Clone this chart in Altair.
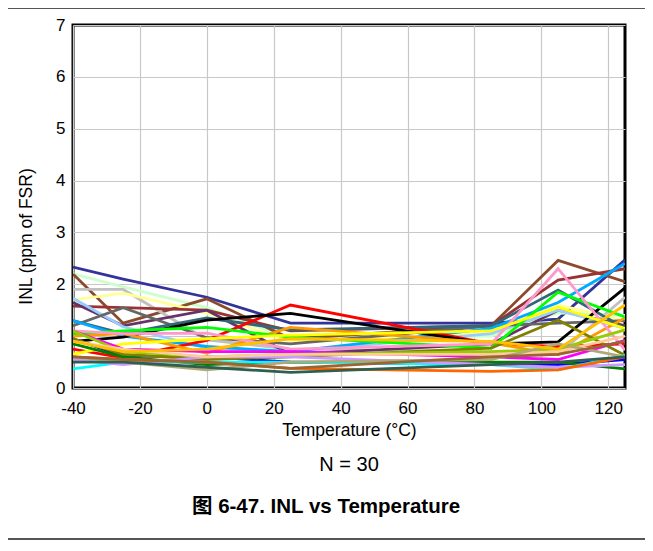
import altair as alt
import pandas as pd

temps = [-40, -25, 0, 25, 85, 105, 125]

# 30 units, INL (ppm of FSR) at each temperature
s01 = [2.33, 2.10, 1.75, 1.25, 1.25, 1.33, 2.47]   # navy
s02 = [2.20, 1.95, 1.55, 0.95, 1.00, 1.45, 1.40]   # light green
s03 = [2.20, 1.25, 1.72, 0.95, 1.20, 2.46, 2.05]   # brown
s04 = [1.90, 1.90, 0.93, 0.75, 0.70, 0.65, 1.75]   # silver
s05 = [1.70, 1.83, 1.45, 0.90, 1.05, 1.60, 1.30]   # light yellow
s06 = [1.58, 1.55, 1.50, 1.10, 1.20, 2.08, 2.30]   # maroon
s07 = [1.65, 1.20, 1.50, 0.65, 0.85, 1.50, 1.20]   # purple
s08 = [1.73, 1.18, 0.77, 0.70, 1.05, 1.50, 1.15]   # light blue
s09 = [1.20, 1.55, 0.97, 0.85, 1.20, 1.25, 1.30]   # dark gray
s10 = [1.30, 1.05, 1.35, 1.12, 1.20, 1.89, 1.15]   # dark teal
s11 = [1.30, 1.00, 0.80, 0.70, 1.15, 1.65, 2.40]   # sky blue
s12 = [0.75, 0.58, 0.92, 1.60, 0.85, 0.80, 0.85]   # red
s13 = [0.90, 0.98, 1.31, 1.44, 0.85, 0.89, 1.93]   # black
s14 = [1.00, 1.05, 0.67, 1.17, 0.87, 0.64, 1.35]   # orange
s15 = [1.05, 1.10, 1.17, 0.98, 0.77, 1.85, 1.37]   # green
s16 = [1.10, 1.05, 1.06, 0.75, 0.85, 2.30, 0.73]   # pink
s17 = [0.65, 0.85, 0.95, 1.02, 1.10, 1.56, 1.15]   # yellow
s18 = [1.10, 0.75, 0.70, 0.70, 0.60, 0.55, 0.92]   # magenta
s19 = [0.95, 0.62, 0.60, 0.50, 0.45, 0.45, 0.55]   # blue
s20 = [0.85, 0.60, 0.45, 0.50, 0.50, 0.50, 0.37]   # dark green
s21 = [0.95, 0.65, 0.55, 0.60, 0.77, 1.31, 0.63]   # olive
s22 = [1.10, 0.70, 0.60, 0.65, 0.70, 0.75, 1.12]   # yellow-green
s23 = [0.37, 0.50, 0.50, 0.50, 0.45, 0.35, 0.63]   # cyan
s24 = [0.55, 0.45, 0.60, 0.60, 0.45, 0.40, 0.45]   # lavender
s25 = [0.60, 0.55, 0.50, 0.38, 0.32, 0.35, 0.60]   # orange-red
s26 = [0.90, 0.75, 0.60, 0.65, 0.65, 0.70, 1.00]   # peach
s27 = [0.60, 0.50, 0.35, 0.50, 0.55, 0.85, 0.60]   # khaki
s28 = [0.90, 0.70, 0.75, 0.95, 0.90, 0.75, 1.60]   # gold
s29 = [0.50, 0.50, 0.40, 0.30, 0.45, 0.50, 0.60]   # dark slate
s30 = [0.60, 0.55, 0.50, 0.38, 0.60, 0.65, 0.90]   # tan brown

series = [s01, s02, s03, s04, s05, s06, s07, s08, s09, s10,
          s11, s12, s13, s14, s15, s16, s17, s18, s19, s20,
          s21, s22, s23, s24, s25, s26, s27, s28, s29, s30]

colors = ["#333399", "#ccffcc", "#8b4a2b", "#c0c0c0", "#ffff99", "#993333",
          "#663366", "#99ccff", "#666666", "#336677", "#00aaff", "#ff0000",
          "#000000", "#ff9900", "#00ff00", "#ff99cc", "#ffff00", "#ff00ff",
          "#0000ff", "#008000", "#808000", "#99cc00", "#00ffff", "#cc99ff",
          "#ff6600", "#ffcc99", "#b0a878", "#ffc000", "#2f5f4f", "#996633"]

x_ticks = [-40, -20, 0, 20, 40, 60, 80, 100, 120]
y_ticks = [0, 1, 2, 3, 4, 5, 6, 7]

names = [f"u{i + 1:02d}" for i in range(len(series))]
rows = []
for name, vals in zip(names, series):
    for t, v in zip(temps, vals):
        rows.append({"unit": name, "T": t, "INL": v})
df = pd.DataFrame(rows)

FONT = "Liberation Sans, Arial, Noto Sans CJK SC"
W, H = 552, 363

lines = alt.Chart(df).mark_line(strokeWidth=2.8, clip=True).encode(
    x=alt.X("T:Q",
            scale=alt.Scale(domain=[-40, 125], nice=False, zero=False),
            axis=alt.Axis(values=x_ticks, title="Temperature (°C)",
                          labelExpr="'' + datum.value")),
    y=alt.Y("INL:Q",
            scale=alt.Scale(domain=[0, 7], nice=False),
            axis=alt.Axis(values=y_ticks, title="INL (ppm of FSR)", titleY=211,
                          labelExpr="'' + datum.value")),
    color=alt.Color("unit:N", scale=alt.Scale(domain=names, range=colors), legend=None),
)

one = pd.DataFrame({"a": [0]})
top_rule = alt.Chart(one).mark_rule(color="#555555", strokeWidth=2).encode(
    x=alt.value(-65), x2=alt.value(W + 20), y=alt.value(-17))
bottom_rule = alt.Chart(one).mark_rule(color="#555555", strokeWidth=2).encode(
    x=alt.value(-65), x2=alt.value(W + 20), y=alt.value(514))
n_text = alt.Chart(one).mark_text(fontSize=20, font=FONT, color="black").encode(
    x=alt.value(W / 2), y=alt.value(440), text=alt.value("N = 30"))
caption = alt.Chart(one).mark_text(fontSize=20.5, font=FONT, fontWeight="bold", color="black").encode(
    x=alt.value(253), y=alt.value(482), text=alt.value("图 6-47. INL vs Temperature"))

chart = alt.layer(lines, top_rule, bottom_rule, n_text, caption).properties(
    width=W, height=H,
    autosize=alt.AutoSizeParams(type="none"),
    padding={"left": 65, "top": 17, "right": 20, "bottom": 152},
).configure_view(
    stroke="black", strokeWidth=3
).configure_axis(
    labelFont=FONT, titleFont=FONT, labelFontSize=17, titleFontSize=17.5,
    labelColor="black", titleColor="black", titleFontWeight="normal",
    domain=False, ticks=False, gridColor="#c8c8c8", gridWidth=1.2,
).configure_axisX(labelPadding=12, titlePadding=5, labelFlush=False
).configure_axisY(labelPadding=8, titlePadding=20)

chart.save("out.html", embed_options={"renderer": "svg", "actions": False})
